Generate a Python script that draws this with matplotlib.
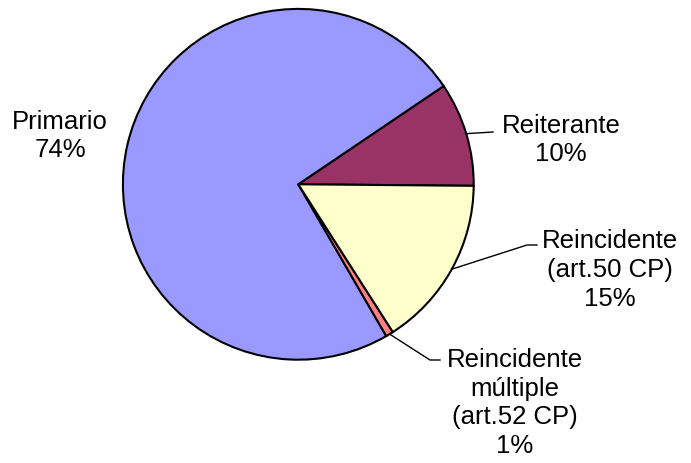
import numpy as np
import matplotlib
matplotlib.use("Agg")
import matplotlib.pyplot as plt

# slices, counter-clockwise from just below 3 o'clock
categories = ["Reiterante", "Primario", "Reincidente\nmúltiple\n(art.52 CP)", "Reincidente\n(art.50 CP)"]
shares = [9.6, 73.9, 0.7, 15.8]
pct_labels = ["10%", "74%", "1%", "15%"]
colors = ["#993366", "#9999FF", "#FF8080", "#FFFFCC"]

W, H = 691, 463
plt.rcParams['font.family'] = ['Liberation Sans', 'DejaVu Sans']

fig = plt.figure(figsize=(W / 100, H / 100), dpi=100)
ax = fig.add_axes([0, 0, 1, 1])

cx, cy, r = 298.3, H - 184.3, 175.4
start = -0.5
wedges, _ = ax.pie(shares, colors=colors, startangle=start, counterclock=True,
                   center=(cx, cy), radius=r, frame=True,
                   wedgeprops=dict(edgecolor='black', linewidth=1.5))
ax.set_xlim(0, W)
ax.set_ylim(0, H)
ax.axis('off')

# label anchor (text centre, in pixels from top-left) and leader line bends
label_pos = {
    "Reiterante": (561, 140),
    "Primario": (60, 136),
    "Reincidente\nmúltiple\n(art.52 CP)": (515, 403),
    "Reincidente\n(art.50 CP)": (610, 270),
}
leaders = {
    "Reiterante": [(493, 132)],
    "Reincidente\nmúltiple\n(art.52 CP)": [(430, 360), (440, 360)],
    "Reincidente\n(art.50 CP)": [(527, 245), (537, 245)],
}

for w, name, pct in zip(wedges, categories, pct_labels):
    px, py = label_pos[name]
    ax.text(px, H - py, name + "\n" + pct, ha='center', va='center',
            fontsize=18.5, linespacing=1.26, color='black')
    if name in leaders:
        mid = np.deg2rad((w.theta1 + w.theta2) / 2)
        pts = [(cx + r * np.cos(mid), cy + r * np.sin(mid))]
        pts += [(x, H - y) for x, y in leaders[name]]
        xs, ys = zip(*pts)
        ax.plot(xs, ys, color='black', lw=1.0)

fig.savefig("out.png", dpi=100, facecolor='white')
